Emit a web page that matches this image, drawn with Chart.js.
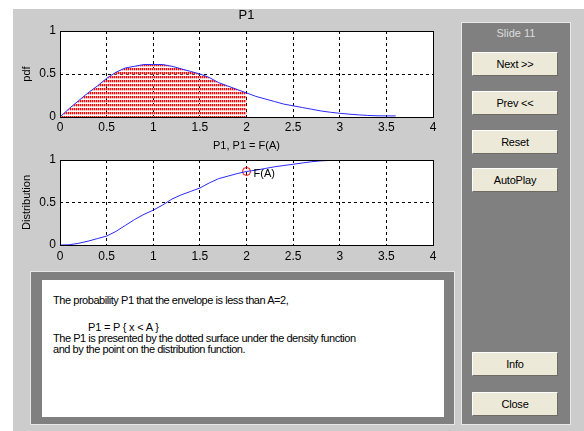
<!DOCTYPE html>
<html>
<head>
<meta charset="utf-8">
<script src="https://cdn.jsdelivr.net/npm/chart.js@4"></script>
<style>
  html, body { margin:0; padding:0; background:#ffffff; width:584px; height:431px; overflow:hidden; }
  body { position:relative; font-family:'Liberation Sans', Arial, sans-serif; }
  #fig { position:absolute; left:13px; top:9px; width:571px; height:422px; background:#cccccc; }
  canvas { position:absolute; left:0; }
  #c1 { top:0; }
  #c2 { top:135px; }
  .frame { position:absolute; background:#808080; border:1px solid #e8e8e8; box-sizing:border-box; }
  #txtOuter { left:30px; top:271px; width:425px; height:154px; }
  #txtInner { position:absolute; left:42px; top:280px; width:402px; height:137px; background:#ffffff; }
  .tl { position:absolute; font-size:11px; line-height:12px; color:#000; letter-spacing:-0.45px; white-space:pre; }
  #side { left:461px; top:22px; width:110px; height:403px; }
  #slide { position:absolute; left:461px; width:110px; top:27px; text-align:center; font-size:11px; line-height:12px; color:#dcdcdc; }
  .btn { position:absolute; left:472px; width:86px; height:24px; box-sizing:border-box; background:#ece9d8;
         border-top:1px solid #ffffff; border-left:1px solid #ffffff; border-right:1px solid #6e6c62; border-bottom:1px solid #6e6c62;
         font-size:11px; line-height:22px; text-align:center; color:#000; letter-spacing:-0.2px; }
</style>
</head>
<body>
<div id="fig"></div>
<canvas id="c1" width="450" height="140"></canvas>
<canvas id="c2" width="450" height="135"></canvas>

<div id="txtOuter" class="frame"></div>
<div id="txtInner"></div>
<div class="tl" style="left:53px; top:294px;">The probability P1 that the envelope is less than A=2,</div>
<div class="tl" style="left:88px; top:321px; letter-spacing:-0.2px;">P1 = P { x &lt; A }</div>
<div class="tl" style="left:53px; top:332px;">The P1 is presented by the dotted surface under the density function</div>
<div class="tl" style="left:53px; top:343px;">and by the point on the distribution function.</div>

<div id="side" class="frame"></div>
<div id="slide">Slide 11</div>
<div class="btn" style="top:52px;">Next &gt;&gt;</div>
<div class="btn" style="top:91px;">Prev &lt;&lt;</div>
<div class="btn" style="top:130px;">Reset</div>
<div class="btn" style="top:168px;">AutoPlay</div>
<div class="btn" style="top:352px;">Info</div>
<div class="btn" style="top:392px;">Close</div>

<script>
// ---------- data ----------
const pdfX = [0,0.1,0.2,0.3,0.4,0.5,0.6,0.7,0.8,0.9,1.0,1.1,1.2,1.3,1.4,1.5,1.6,1.7,1.8,1.9,2.0,2.1,2.2,2.3,2.4,2.5,2.6,2.7,2.8,2.9,3.0,3.1,3.2,3.3,3.4,3.5,3.6];
const pdfY = [0,0.10,0.19,0.28,0.36,0.45,0.52,0.57,0.59,0.61,0.61,0.61,0.59,0.56,0.53,0.50,0.46,0.40,0.36,0.32,0.28,0.24,0.21,0.18,0.15,0.13,0.11,0.09,0.07,0.055,0.043,0.033,0.025,0.018,0.014,0.013,0.013];
const cdfX = [0,0.1,0.2,0.3,0.4,0.5,0.6,0.7,0.8,0.9,1.0,1.1,1.2,1.3,1.4,1.5,1.6,1.7,1.8,1.9,2.0,2.1,2.2,2.3,2.4,2.5,2.6,2.7,2.8,2.9,3.0,3.1,3.2,3.3,3.4,3.5,3.6,3.7];
const cdfY = [0,0.003,0.02,0.045,0.075,0.105,0.16,0.23,0.30,0.36,0.41,0.47,0.54,0.59,0.63,0.67,0.73,0.78,0.81,0.84,0.865,0.88,0.90,0.92,0.935,0.95,0.965,0.98,0.99,0.995,1.0,1.0,1.0,1.0,1.0,1.0,1.0,1.0];
const A = 2;
const FA = 0.865;
const xTickValues = [0,0.5,1,1.5,2,2.5,3,3.5,4];
const xTickLabels = ['0','0.5','1','1.5','2','2.5','3','3.5','4'];
const yTickValues = [0,0.5,1];
const yTickLabels = ['0','0.5','1'];
const title1 = 'P1';
const title2 = 'P1, P1 = F(A)';
const yLabel1 = 'pdf';
const yLabel2 = 'Distribution';
const pointLabel = 'F(A)';

// ---------- styling helpers ----------
Chart.defaults.font.family = "'Liberation Sans', Arial, sans-serif";
Chart.defaults.color = '#000';

function toPts(xs, ys) { return xs.map((x, i) => ({ x: x, y: ys[i] })); }

const pc = document.createElement('canvas');
pc.width = 2; pc.height = 4;
const pctx = pc.getContext('2d');
pctx.fillStyle = '#ff0000'; pctx.fillRect(0, 0, 1, 2);
pctx.fillStyle = '#ff9a9a'; pctx.fillRect(1, 0, 1, 2);
pctx.fillStyle = 'rgba(255,120,120,0.6)'; pctx.fillRect(0, 2, 1, 1);
pctx.fillStyle = 'rgba(255,180,180,0.35)'; pctx.fillRect(1, 2, 1, 1);
const hatch = pctx.createPattern(pc, 'repeat');

const frameBox = {
  id: 'frameBox',
  beforeDraw(chart) {
    const { ctx, chartArea: a } = chart;
    ctx.save();
    ctx.fillStyle = '#ffffff';
    ctx.fillRect(a.left, a.top, a.right - a.left, a.bottom - a.top);
    ctx.restore();
  },
  afterDraw(chart) {
    const { ctx, chartArea: a } = chart;
    ctx.save();
    ctx.strokeStyle = '#000';
    ctx.lineWidth = 1;
    ctx.setLineDash([]);
    ctx.strokeRect(a.left + 0.5, a.top + 0.5, a.right - a.left, a.bottom - a.top);
    ctx.restore();
  }
};

function xScale(h, pad) {
  return {
    type: 'linear', min: 0, max: 4,
    afterBuildTicks: s => { s.ticks = xTickValues.map(v => ({ value: v })); },
    afterFit: s => { s.height = h; },
    ticks: { font: { size: 12 }, padding: pad, color: '#000', callback: (v, i) => xTickLabels[i] },
    grid: { color: '#000', lineWidth: 1, drawTicks: false },
    border: { display: false, dash: [3, 3] }
  };
}
function yScale(label) {
  return {
    type: 'linear', min: 0, max: 1,
    afterBuildTicks: s => { s.ticks = yTickValues.map(v => ({ value: v })); },
    afterFit: s => { s.width = 60; },
    ticks: { font: { size: 12 }, padding: 4, color: '#000', callback: (v, i) => yTickLabels[i] },
    grid: { color: '#000', lineWidth: 1, drawTicks: false },
    border: { display: false, dash: [3, 3] },
    title: { display: true, text: label, font: { size: 11 }, color: '#000', padding: { top: 20.4, bottom: 0 } }
  };
}

// ---------- chart 1: pdf ----------
new Chart(document.getElementById('c1'), {
  type: 'scatter',
  data: {
    datasets: [
      { data: toPts(pdfX, pdfY), showLine: true, borderColor: '#2a2aff', borderWidth: 1, pointRadius: 0, fill: false, tension: 0 },
      { data: toPts(pdfX, pdfY).filter(p => p.x <= A), showLine: true, borderWidth: 0, borderColor: 'rgba(0,0,0,0)', pointRadius: 0, fill: 'origin', backgroundColor: hatch, tension: 0 }
    ]
  },
  options: {
    responsive: false, animation: false,
    layout: { padding: { left: 0, right: 17, top: 0, bottom: 0 } },
    plugins: {
      legend: { display: false }, tooltip: { enabled: false },
      title: { display: true, fullSize: false, text: title1, color: '#000', font: { size: 13, weight: 'normal' }, padding: { top: 7.2, bottom: 8.2 } }
    },
    scales: { x: xScale(23, 3.8), y: yScale(yLabel1) }
  },
  plugins: [frameBox]
});

// ---------- chart 2: distribution ----------
const pointLabelPlugin = {
  id: 'pointLabel',
  afterDatasetsDraw(chart) {
    const el = chart.getDatasetMeta(1).data[0];
    if (!el) return;
    const ctx = chart.ctx;
    ctx.save();
    ctx.fillStyle = '#000';
    ctx.font = "11px 'Liberation Sans', Arial, sans-serif";
    ctx.textBaseline = 'middle';
    ctx.textAlign = 'left';
    ctx.fillText(pointLabel, el.x + 7, el.y + 2.5);
    ctx.restore();
  }
};

new Chart(document.getElementById('c2'), {
  type: 'scatter',
  data: {
    datasets: [
      { data: toPts(cdfX, cdfY), showLine: true, borderColor: '#2a2aff', borderWidth: 1, pointRadius: 0, fill: false, tension: 0 },
      { data: [{ x: A, y: FA }], showLine: false, pointRadius: 4, pointStyle: 'circle', borderColor: '#ff0000', backgroundColor: 'rgba(0,0,0,0)', borderWidth: 1 }
    ]
  },
  options: {
    responsive: false, animation: false,
    layout: { padding: { left: 0, right: 17, top: 0, bottom: 0 } },
    plugins: {
      legend: { display: false }, tooltip: { enabled: false },
      title: { display: true, fullSize: false, text: title2, color: '#000', font: { size: 11, weight: 'normal' }, padding: { top: 4.4, bottom: 7.4 } }
    },
    scales: { x: xScale(25, 4.5), y: yScale(yLabel2) }
  },
  plugins: [frameBox, pointLabelPlugin]
});
</script>
</body>
</html>
